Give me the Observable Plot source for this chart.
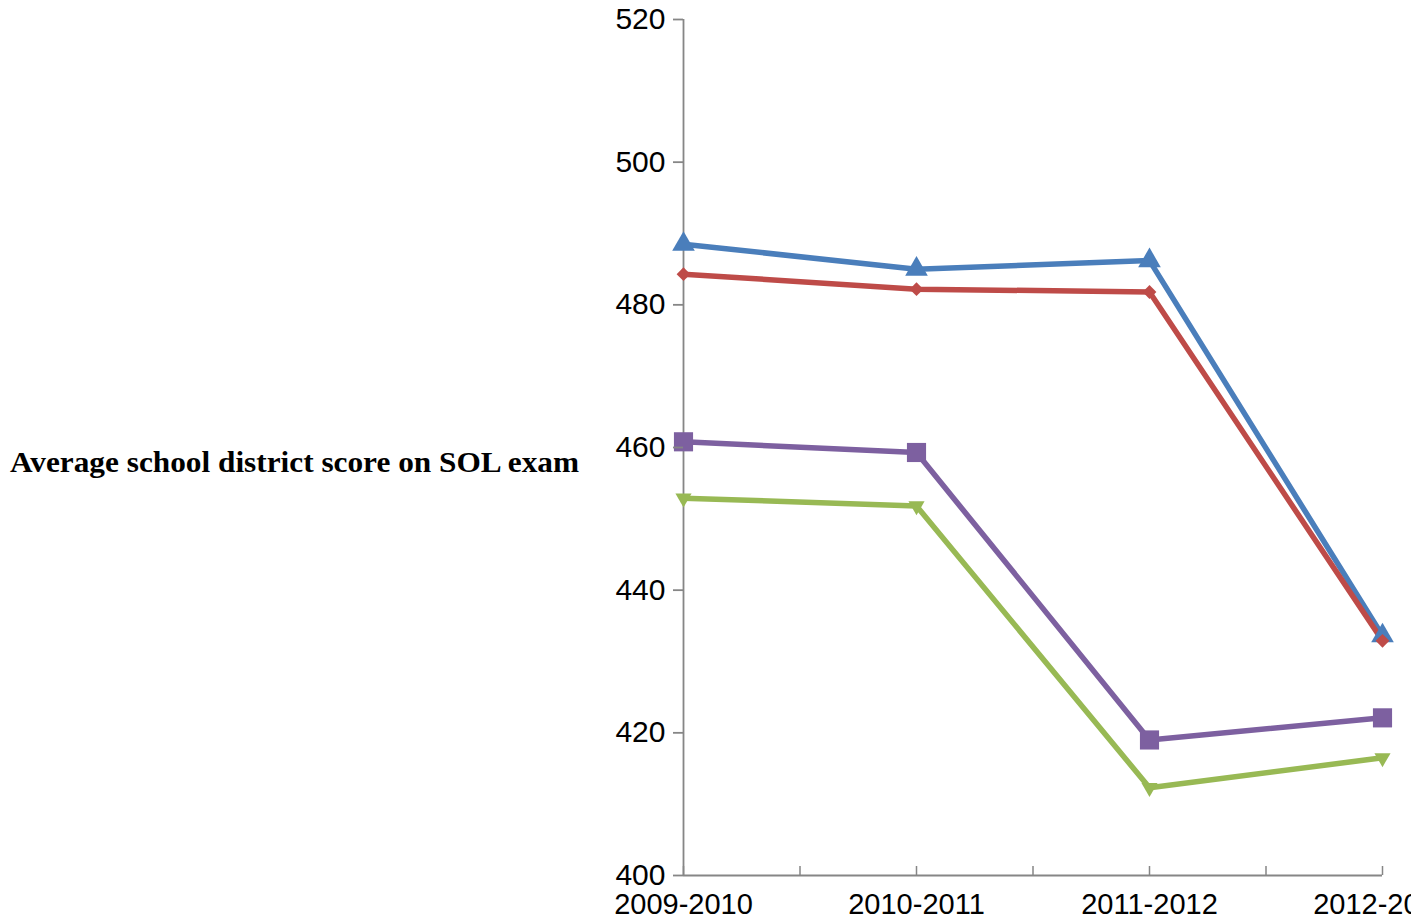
<!DOCTYPE html>
<html>
<head>
<meta charset="utf-8">
<script src="https://cdn.jsdelivr.net/npm/d3@7"></script>
<script src="https://cdn.jsdelivr.net/npm/@observablehq/plot@0.6"></script>
<style>
  html, body { margin: 0; padding: 0; background: #fff; overflow: hidden; }
  #chart svg { display: block; }
</style>
</head>
<body>
<div id="chart"></div>
<script>
const years = ["2009-2010", "2010-2011", "2011-2012", "2012-2013"];
const yTicks = [400, 420, 440, 460, 480, 500, 520];
const titleText = "Average school district score on SOL exam";

const seriesNames = ["Series 1", "Series 2", "Series 3", "Series 4"];
const series1 = [488.5, 485.0, 486.2, 433.6]; // blue, triangle
const series2 = [484.3, 482.2, 481.8, 432.9]; // red, diamond
const series3 = [452.9, 451.8, 412.3, 416.5]; // green, down triangle
const series4 = [460.8, 459.3, 419.0, 422.1]; // purple, square

const colors = ["#4a7ebb", "#be4b48", "#98b954", "#7d60a0"];
const symbols = ["triangle", "diamond2", "triangle", "square"];
const radii = [8.4, 6.2, 6.0, 10.8];
const rotations = [0, 0, 180, 0];

const allSeries = [series1, series2, series3, series4];
const rows = allSeries.map((vals, s) => vals.map((v, i) => ({series: seriesNames[s], i, v})));

const halfTicks = d3.range(0, 3.01, 0.5);
const axisGray = "#868686";

const marks = [];
marks.push(Plot.ruleX([0], {stroke: axisGray, strokeWidth: 1.8}));
marks.push(Plot.ruleY([400], {stroke: axisGray, strokeWidth: 1.8}));
rows.forEach((data, s) => {
  marks.push(Plot.line(data, {x: "i", y: "v", stroke: colors[s], strokeWidth: 5.5, strokeLinejoin: "round"}));
});
rows.forEach((data, s) => {
  marks.push(Plot.dot(data, {x: "i", y: "v", symbol: symbols[s], r: radii[s], fill: colors[s], stroke: "none", rotate: rotations[s]}));
});
marks.push(Plot.axisY({ticks: yTicks, tickSize: 10, tickPadding: 8, stroke: axisGray, strokeWidth: 1.8, fill: "#000", fontSize: 30, label: null, tickFormat: d => String(d)}));
marks.push(Plot.axisX({ticks: [0, 1, 2, 3], tickSize: 0, tickPadding: 18, fill: "#000", fontSize: 29, label: null, tickFormat: i => years[i]}));
marks.push(Plot.axisX({ticks: halfTicks, tickSize: 9, dy: -9, stroke: axisGray, strokeWidth: 1.5, label: null, tickFormat: () => ""}));

const chart = Plot.plot({
  width: 1411,
  height: 921,
  marginLeft: 683,
  marginRight: 29,
  marginTop: 19,
  marginBottom: 46,
  style: {fontFamily: "Liberation Sans", fontSize: "28px", color: "#000", background: "#fff", overflow: "hidden"},
  x: {type: "linear", domain: [0, 3], axis: null},
  y: {type: "linear", domain: [400, 520], axis: null},
  marks
});

const svg = d3.select(chart);
svg.append("text")
  .attr("x", 10)
  .attr("y", 472)
  .attr("text-anchor", "start")
  .attr("font-family", "Liberation Serif")
  .attr("font-weight", "bold")
  .attr("font-size", 29)
  .attr("fill", "#000")
  .attr("textLength", 569)
  .attr("lengthAdjust", "spacingAndGlyphs")
  .text(titleText);

document.getElementById("chart").appendChild(chart);
</script>
</body>
</html>
